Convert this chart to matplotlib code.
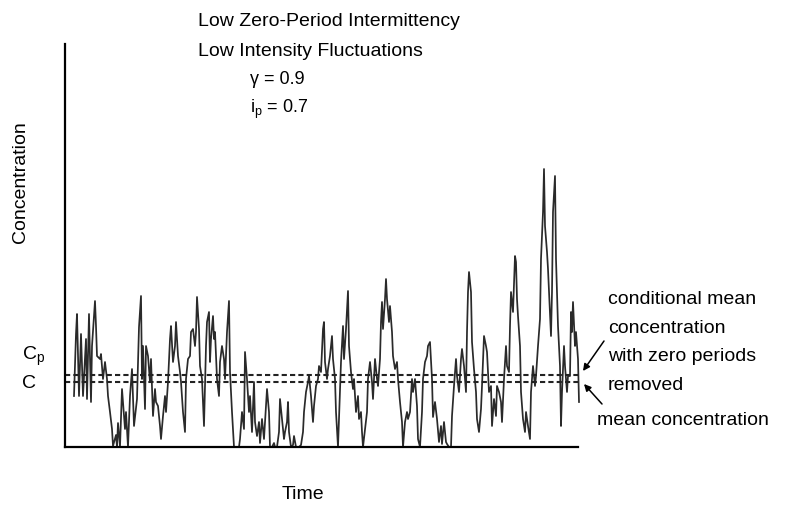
import matplotlib.pyplot as plt
import numpy as np

plt.rcParams['font.family'] = ['Liberation Sans', 'DejaVu Sans']
plt.rcParams['mathtext.default'] = 'regular'

# time (arbitrary units) and concentration (arbitrary units)
time = [9, 11, 12, 14, 16, 18, 21, 22, 24, 26, 27, 30, 31, 32, 35, 36, 38, 40, 42, 43,
        45, 47, 48, 51, 52, 53, 55, 57, 60, 61, 63, 65, 67, 69, 72, 74, 76,
        77, 78, 80, 81, 83, 85, 86, 88, 90, 91, 93, 95, 96, 98, 100, 101, 103, 105, 106,
        108, 110, 111, 113, 115, 116, 118, 120, 121, 123, 125, 126, 128, 130, 131, 132,
        134, 135, 137, 139, 141, 142, 144, 145, 146, 148,
        149, 150, 152, 154, 155, 157, 159, 160, 162, 164, 165, 167, 169, 170, 172, 174,
        175, 177, 179, 180, 182, 184, 185, 187, 189, 190, 192, 194, 195, 197, 199, 200,
        202, 204, 205, 207, 209, 210, 212, 214, 215, 217, 219, 220, 222,
        223, 224, 226, 228, 229, 231, 233, 234, 236, 238, 239, 241, 243, 244, 246, 248,
        249, 251, 253, 254, 256, 258, 259, 260, 262, 263, 265, 267, 268, 270, 271, 273,
        274, 276, 278, 279, 281, 283, 284, 286, 288, 289, 291, 293, 294, 296,
        297, 298, 300, 302, 303, 305, 307, 308, 310, 312, 313, 315, 316, 317, 318, 320,
        321, 322, 324, 325, 327, 328, 330, 332, 333, 335, 337, 338, 340, 342, 343, 345,
        347, 348, 350, 352, 353, 355, 357, 358, 360, 362, 363, 365, 367, 368,
        370, 372, 374, 376, 377, 379, 381, 382, 384, 386, 387, 389, 391, 392, 394, 396,
        397, 399, 401, 402, 403, 404, 406, 407, 409, 411, 412, 414, 416, 417, 419, 421,
        422, 424, 426, 427, 429, 431, 432, 434, 436, 437, 439, 441, 442, 444,
        445, 446, 448, 450, 451, 452, 453, 455, 456, 458, 460, 461, 463, 465, 466, 468,
        470, 471, 473, 475, 476, 478, 479, 480, 482, 483, 484, 486, 487, 488, 490, 491,
        493, 495, 496, 497, 499, 500, 502, 503, 505, 506, 507, 508, 510, 511, 513, 514]

conc = [51, 113, 133, 51, 113, 51, 108, 48, 133, 45, 101, 146, 121, 91, 88, 93, 68, 85, 68, 51,
        35, 18, 1, 12, 0, 24, 0, 58, 18, 35, 0, 51, 78, 21, 48, 120, 151,
        68, 101, 38, 101, 91, 65, 88, 31, 58, 45, 41, 21, 8, 31, 51, 35, 65, 108, 121,
        85, 101, 125, 91, 75, 65, 35, 15, 68, 88, 91, 115, 118, 101, 115, 150,
        118, 81, 68, 21, 101, 125, 135, 85, 108, 131,
        108, 115, 68, 51, 85, 101, 88, 68, 115, 146, 75, 35, 0, 0, 0, 0,
        8, 35, 18, 95, 68, 35, 51, 15, 65, 25, 11, 25, 4, 28, 8, 25,
        58, 35, 0, 0, 4, 0, 0, 15, 48, 28, 8, 15, 25,
        45, 15, 0, 2, 11, 0, 0, 0, 2, 15, 35, 55, 65, 71, 51, 25,
        41, 61, 68, 81, 75, 118, 125, 85, 68, 78, 91, 111, 88, 68, 35, 0,
        28, 85, 121, 88, 118, 156, 101, 75, 58, 68, 35, 51, 28, 35,
        15, 0, 18, 35, 68, 85, 65, 48, 88, 68, 61, 88, 125, 145, 118, 148,
        168, 148, 125, 141, 115, 91, 78, 85, 68, 45, 25, 0, 25, 35, 28, 35,
        68, 55, 68, 41, 8, 0, 35, 68, 85, 91, 101, 105, 68, 30,
        45, 28, 5, 21, 3, 25, 5, 3, 0, 0, 31, 61, 88, 71, 55, 88,
        98, 81, 55, 115, 155, 175, 155, 105, 78, 55, 28, 15, 38, 61, 111, 101,
        95, 55, 61, 21, 48, 31, 61, 55, 45, 25, 68, 101, 81, 75,
        121, 155, 135, 191, 185, 148, 131, 101, 55, 28, 15, 35, 21, 8, 55, 81,
        61, 71, 101, 128, 188, 235, 278, 221, 195, 178, 155, 111, 155, 235, 271, 188,
        121, 81, 21, 55, 101, 81, 55, 71, 71, 135, 115, 145, 101, 115, 88, 45]

c_mean = 65       # mean concentration C
c_cond = 72       # conditional mean Cp (zero periods removed)

fig = plt.figure(figsize=(7.86, 5.10), dpi=100)
ax = fig.add_axes([65/786, 62/510, 513/786, 403/510])

ax.plot(time, conc, color='#2a2a2a', lw=1.25, clip_on=False)
ax.axhline(c_cond, color='#222222', lw=1.5, ls=(0, (2.5, 1.5)))
ax.axhline(c_mean, color='#222222', lw=1.5, ls=(0, (2.5, 1.5)))

ax.set_xlim(0, 513)
ax.set_ylim(0, 403)
for s in ['top', 'right']:
    ax.spines[s].set_visible(False)
ax.spines['left'].set_linewidth(1.6)
ax.spines['bottom'].set_linewidth(1.6)
ax.set_xticks([])
ax.set_yticks([])

fs = 14
fig.text(198/786, 1 - 21/510, 'Low Zero-Period Intermittency', fontsize=fs, va='center')
fig.text(198/786, 1 - 51/510, 'Low Intensity Fluctuations', fontsize=fs, va='center')
fig.text(250/786, 1 - 80/510, '\u03b3 = 0.9', fontsize=fs - 1, va='center')
fig.text(250/786, 1 - 109/510, 'i$_p$ = 0.7', fontsize=fs - 1, va='center')

fig.text(21/786, 1 - 182/510, 'Concentration', fontsize=fs, rotation=90,
         ha='center', va='center')
fig.text(22/786, 1 - 356/510, 'C$_p$', fontsize=fs, va='center')
fig.text(22/786, 1 - 384/510, 'C', fontsize=fs, va='center')
fig.text(303/786, 1 - 495/510, 'Time', fontsize=fs, ha='center', va='center')

notes = ['conditional mean', 'concentration', 'with zero periods', 'removed']
for i, n in enumerate(notes):
    fig.text(608/786, 1 - (300 + 28.5 * i)/510, n, fontsize=fs, va='center')
fig.text(597/786, 1 - 421/510, 'mean concentration', fontsize=fs, va='center')

ax.annotate('', xy=(518, c_cond + 4), xytext=(539, 106), annotation_clip=False,
            arrowprops=dict(arrowstyle='-|>', color='black', lw=1.1,
                            mutation_scale=10, shrinkA=0, shrinkB=0))
ax.annotate('', xy=(519, c_mean - 2), xytext=(537, 43), annotation_clip=False,
            arrowprops=dict(arrowstyle='-|>', color='black', lw=1.1,
                            mutation_scale=10, shrinkA=0, shrinkB=0))

fig.savefig('out.png', dpi=100)
